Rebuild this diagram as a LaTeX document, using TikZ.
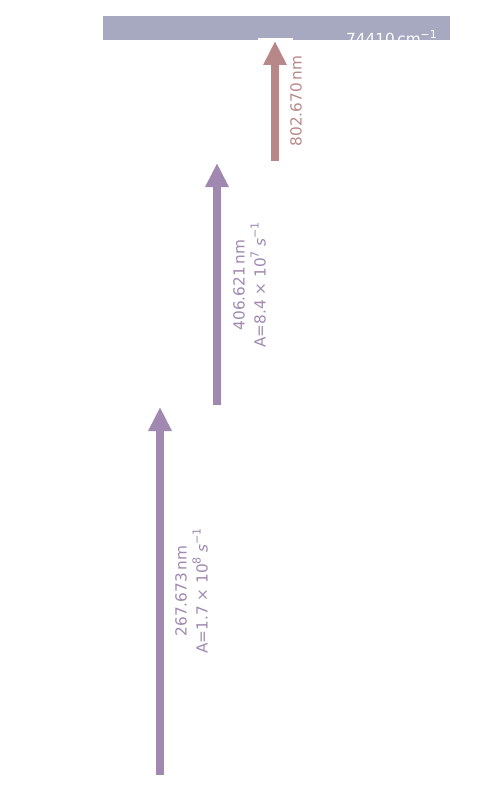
\documentclass[tikz,border=0pt]{standalone}
\usepackage{fontspec}
\setmainfont{DejaVu Sans}
\usetikzlibrary{arrows.meta}
\definecolor{barc}{HTML}{A6A9C0}
\definecolor{redc}{HTML}{B88888}
\definecolor{purc}{HTML}{A088B0}
\newcommand{\sps}[1]{\raisebox{0.45em}{\fontsize{11}{11}\selectfont #1}}
\begin{document}
\begin{tikzpicture}[x=1pt,y=-1pt,
  arr/.style={line width=8pt,-{Triangle[length=24pt,width=22pt]}},
  lbl/.style={rotate=90,align=center,font=\fontsize{15.3}{21}\selectfont,inner sep=0pt}]
\useasboundingbox (0,0) rectangle (500,800);
\fill[barc] (103,16) rectangle (450,40);
\begin{scope}
\clip (103,16) rectangle (450,40);
\node[anchor=base west,text=white,inner sep=0pt,font=\fontsize{15.3}{17}\selectfont] (lev) at (346,45) {74410\,cm\sps{−1}};
\end{scope}
\fill[white] (258,38) rectangle (293,41);
\coordinate (a1) at (160,775); \coordinate (b1) at (160,407);
\coordinate (a2) at (217,405); \coordinate (b2) at (217,163);
\coordinate (a3) at (275,161); \coordinate (b3) at (275,41);
\draw[arr,purc] (a1) -- (b1);
\draw[arr,purc] (a2) -- (b2);
\draw[arr,redc] (a3) -- (b3);
\node[lbl,text=redc] (l3) at (296,101) {802.670\,nm};
\node[lbl,text=purc] (l2) at (249.5,285) {406.621\,nm\\A=8.4 × 10\sps{7} \textit{s}\sps{−1}};
\node[lbl,text=purc] (l1) at (191.5,591) {267.673\,nm\\A=1.7 × 10\sps{8} \textit{s}\sps{−1}};
\end{tikzpicture}
\end{document}
